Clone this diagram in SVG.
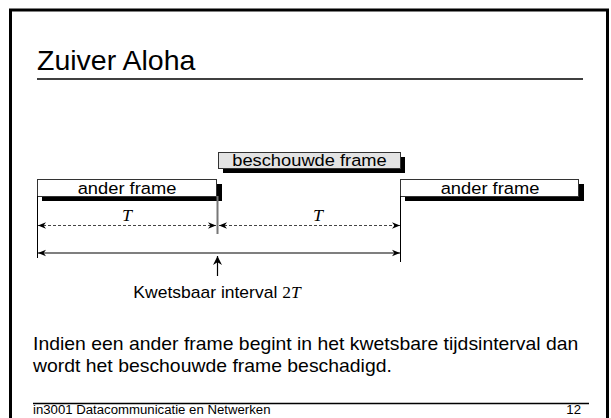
<svg xmlns="http://www.w3.org/2000/svg" width="611" height="418" viewBox="0 0 611 418">
<defs>
<style>
.sans{font-family:"Liberation Sans",Arial,sans-serif;fill:#000}
.serif{font-family:"Liberation Serif","Times New Roman",serif;fill:#000}
.box{stroke:#333;stroke-width:1}
.shadow{fill:#000}
.dash{stroke:#444;stroke-width:1;stroke-dasharray:3 2;fill:none}
.solid{stroke:#000;stroke-width:1.2;fill:none}
</style>
<marker id="ah" viewBox="0 0 10 10" refX="10" refY="5" markerWidth="8" markerHeight="8" markerUnits="userSpaceOnUse" orient="auto-start-reverse">
<path d="M0,1 L10,5 L0,9 L3,5 Z" fill="#000"/>
</marker>
<marker id="ahUp" viewBox="0 0 10 10" refX="10" refY="5" markerWidth="12" markerHeight="9" markerUnits="userSpaceOnUse" orient="auto">
<path d="M0,0 L10,5 L0,10 L3,5 Z" fill="#000"/>
</marker>
</defs>
<rect width="611" height="418" fill="#fff"/>
<path d="M10.5,420 V10 H607.5 V420" fill="none" stroke="#000" stroke-width="3"/>
<g id="title">
<text class="sans" font-size="28.5" x="37" y="70">Zuiver Aloha</text>
<line x1="37" y1="79" x2="583" y2="79" stroke="#000" stroke-width="1.5"/>
</g>
<g id="frame-beschouwd">
<rect class="shadow" x="223" y="157" width="182" height="16"/>
<rect class="box" x="218.5" y="152.5" width="182" height="16" fill="#e3e3e3"/>
<text class="sans" font-size="18.3" text-anchor="middle" transform="translate(309.5,166) scale(1,0.913)">beschouwde frame</text>
</g>
<g id="frame-links">
<rect class="shadow" x="42" y="184" width="180" height="17"/>
<rect class="box" x="37.5" y="179.5" width="179" height="17" fill="#fff"/>
<text class="sans" font-size="18.3" text-anchor="middle" transform="translate(127,193.5) scale(1,0.913)">ander frame</text>
</g>
<g id="frame-rechts">
<rect class="shadow" x="405" y="184" width="179" height="17"/>
<rect class="box" x="400.5" y="179.5" width="178" height="17" fill="#fff"/>
<text class="sans" font-size="18.3" text-anchor="middle" transform="translate(490,193.5) scale(1,0.913)">ander frame</text>
</g>
<g id="connectors">
<line x1="37.5" y1="196" x2="37.5" y2="258" stroke="#000" stroke-width="1"/>
<line x1="400.5" y1="196" x2="400.5" y2="262" stroke="#000" stroke-width="1"/>
<line x1="217.5" y1="196" x2="217.5" y2="234" stroke="#777" stroke-width="2"/>
<line class="dash" x1="38" y1="225.5" x2="216" y2="225.5" marker-start="url(#ah)" marker-end="url(#ah)"/>
<line class="dash" x1="219" y1="225.5" x2="400" y2="225.5" marker-start="url(#ah)" marker-end="url(#ah)"/>
<line class="solid" x1="38" y1="253" x2="400" y2="253" marker-start="url(#ah)" marker-end="url(#ah)"/>
<line class="solid" x1="217.5" y1="276" x2="217.5" y2="256" stroke-width="1.5" marker-end="url(#ahUp)"/>
</g>
<g id="labels">
<text class="serif" font-size="18" font-style="italic" text-anchor="middle" transform="translate(127,221) scale(1,0.913)">T</text>
<text class="serif" font-size="18" font-style="italic" text-anchor="middle" transform="translate(318,221) scale(1,0.913)">T</text>
<text class="sans" font-size="17.5" text-anchor="middle" transform="translate(217,298) scale(1,0.913)">Kwetsbaar interval <tspan class="serif">2</tspan><tspan class="serif" font-style="italic">T</tspan></text>
</g>
<g id="body">
<text class="sans" font-size="19.4" transform="translate(33,350) scale(1,0.913)">Indien een ander frame begint in het kwetsbare tijdsinterval dan</text>
<text class="sans" font-size="19.4" transform="translate(33,372) scale(1,0.913)">wordt het beschouwde frame beschadigd.</text>
</g>
<g id="footer">
<line x1="33" y1="403.5" x2="589" y2="403.5" stroke="#000" stroke-width="1.5"/>
<text class="sans" font-size="13.2" transform="translate(33,414) scale(1,0.913)">in3001 Datacommunicatie en Netwerken</text>
<text class="sans" font-size="13.2" text-anchor="end" transform="translate(581,414) scale(1,0.913)">12</text>
</g>
</svg>
